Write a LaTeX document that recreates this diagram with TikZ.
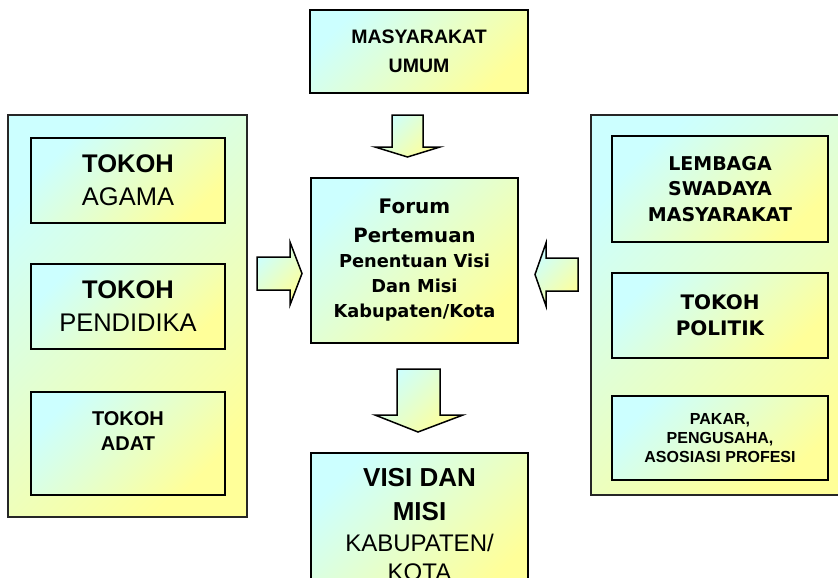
\documentclass[tikz,border=0pt]{standalone}
\usepackage{fontspec}
\setmainfont{Liberation Sans}
\newfontfamily\verdana{DejaVu Sans}
\usetikzlibrary{calc}
\definecolor{biru}{RGB}{204,255,255}
\definecolor{kuning}{RGB}{255,255,153}
\tikzset{
  isi/.style={top color=biru, bottom color=kuning, shading angle=45},
  panel/.style={isi, draw=black!85, line width=1.5pt, outer sep=0pt},
  kotak/.style={isi, draw=black, line width=1.8pt, align=center, inner sep=0pt, outer sep=0pt},
  panah/.style={isi, draw=black, line width=1.5pt, line join=miter},
}
\begin{document}
\begin{tikzpicture}[x=1pt,y=-1pt]
    \useasboundingbox (0,0) rectangle (838,578);
    \clip (0,0) rectangle (838,578);
    \node[panel, minimum width=239pt, minimum height=402pt] (kiri) at (127.5,316) {};
    \node[panel, minimum width=259pt, minimum height=380pt] (kanan) at (720.5,305) {};

    \node[kotak, minimum width=218pt, minimum height=83pt, font=\fontsize{19.5}{29}\selectfont\bfseries] (umum) at (419,51.5) {MASYARAKAT\\UMUM};
    \node[kotak, minimum width=207pt, minimum height=165pt, font=\verdana\bfseries\fontsize{17.8}{25}\selectfont] (forum) at (414.5,260.5)
      {\fontsize{20}{25}\selectfont Forum\\[4pt]\fontsize{19.7}{25}\selectfont Pertemuan\\Penentuan Visi\\Dan Misi\\Kabupaten/Kota};
    \node[kotak, minimum width=217pt, minimum height=144pt, font=\fontsize{26}{31}\selectfont] (visi) at (419.5,525)
      {\textbf{VISI DAN}\\[3pt]\textbf{MISI}\\\fontsize{24}{29}\selectfont KABUPATEN/\\[-2pt]\fontsize{24}{29}\selectfont KOTA};

    \node[kotak, minimum width=194pt, minimum height=85pt, font=\fontsize{25.5}{33}\selectfont] (agama) at (128,180.5) {\textbf{TOKOH}\\AGAMA};
    \node[kotak, minimum width=194pt, minimum height=85pt, font=\fontsize{25.5}{33}\selectfont] (pendidikan) at (128,306.5) {\textbf{TOKOH}\\PENDIDIKA};
    \node[kotak, minimum width=194pt, minimum height=103pt, font=\fontsize{20}{25}\selectfont\bfseries] (adat) at (128,443.5) {TOKOH\\ADAT\\\mbox{}};

    \node[kotak, minimum width=216pt, minimum height=106pt, font=\verdana\bfseries\fontsize{19}{25.5}\selectfont] (lsm) at (720,189) {LEMBAGA\\SWADAYA\\MASYARAKAT};
    \node[kotak, minimum width=216pt, minimum height=85pt, font=\verdana\bfseries\fontsize{20}{26}\selectfont] (politik) at (720,315.5) {TOKOH\\POLITIK};
    \node[kotak, minimum width=216pt, minimum height=84pt, font=\fontsize{16}{19}\selectfont\bfseries] (pakar) at (720,438) {PAKAR,\\PENGUSAHA,\\ASOSIASI PROFESI};

    \draw[panah] ($(umum.south)+(-27,22)$) -- ++(31,0) -- ++(0,32) -- ++(17,0) -- ++(-32.5,10) -- ++(-32.5,-10) -- ++(17,0) -- cycle;
    \draw[panah] ($(forum.west)+(-54,-3.5)$) -- ++(33,0) -- ++(0,-15) -- ++(12,31.5) -- ++(-12,31.5) -- ++(0,-15) -- ++(-33,0) -- cycle;
    \draw[panah] ($(forum.east)+(60,-2.5)$) -- ++(-32,0) -- ++(0,-15) -- ++(-11,31.5) -- ++(11,31.5) -- ++(0,-15) -- ++(32,0) -- cycle;
    \draw[panah] ($(forum.south)+(-17.5,26)$) -- ++(43,0) -- ++(0,46) -- ++(23,0) -- ++(-45,17) -- ++(-43,-17) -- ++(22,0) -- cycle;
\end{tikzpicture}
\end{document}
